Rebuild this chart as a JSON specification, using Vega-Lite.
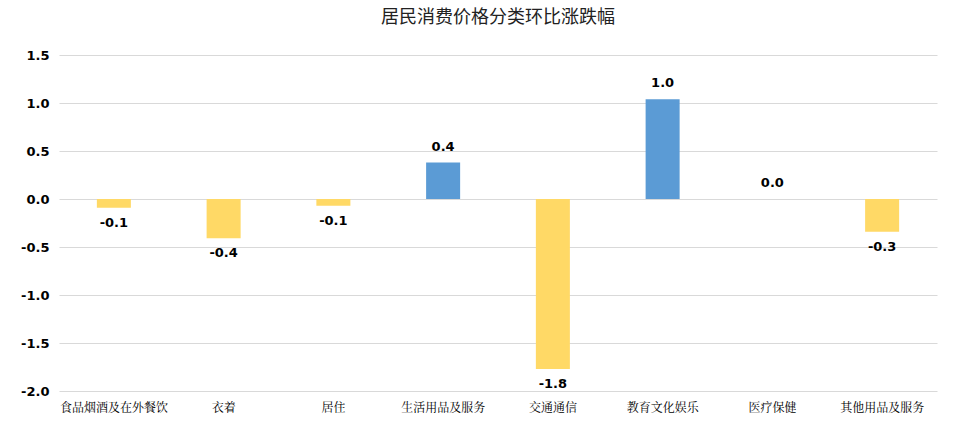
{
  "$schema": "https://vega.github.io/schema/vega-lite/v6.json",
  "width": 960,
  "height": 426,
  "autosize": {"type": "fit", "contains": "padding"},
  "padding": {"left": 20, "right": 23, "top": 9, "bottom": 13},
  "title": {
    "text": "居民消费价格分类环比涨跌幅",
    "font": "Noto Sans CJK SC",
    "fontSize": 18,
    "fontWeight": "normal",
    "color": "#222222",
    "offset": 22
  },
  "config": {
    "view": {"stroke": null},
    "locale": {
      "number": {
        "decimal": ".",
        "thousands": ",",
        "grouping": [3],
        "currency": ["", ""],
        "minus": "-"
      }
    }
  },
  "data": {
    "values": [
      {"category": "食品烟酒及在外餐饮", "change": -0.09},
      {"category": "衣着", "change": -0.41},
      {"category": "居住", "change": -0.07},
      {"category": "生活用品及服务", "change": 0.38},
      {"category": "交通通信", "change": -1.77},
      {"category": "教育文化娱乐", "change": 1.04},
      {"category": "医疗保健", "change": 0.0},
      {"category": "其他用品及服务", "change": -0.34}
    ]
  },
  "encoding": {
    "x": {
      "field": "category",
      "type": "nominal",
      "sort": null,
      "title": null,
      "scale": {"paddingInner": 0.69, "paddingOuter": 0.345},
      "axis": {
        "labelAngle": 0,
        "domain": false,
        "ticks": false,
        "labelPadding": 11,
        "labelFont": "Noto Serif CJK SC",
        "labelFontSize": 12,
        "labelColor": "#000000"
      }
    },
    "y": {
      "field": "change",
      "type": "quantitative",
      "title": null,
      "scale": {"domain": [-2, 1.5], "nice": false},
      "axis": {
        "values": [-2, -1.5, -1, -0.5, 0, 0.5, 1, 1.5],
        "format": ".1f",
        "domain": false,
        "ticks": false,
        "labelPadding": 10,
        "labelFont": "DejaVu Sans",
        "labelFontWeight": "bold",
        "labelFontSize": 13,
        "labelColor": "#000000",
        "gridColor": "#d9d9d9"
      }
    }
  },
  "layer": [
    {
      "mark": {"type": "bar"},
      "encoding": {
        "color": {
          "condition": {"test": "datum.change >= 0", "value": "#5b9bd5"},
          "value": "#ffd966"
        }
      }
    },
    {
      "transform": [{"filter": "datum.change >= 0"}],
      "mark": {
        "type": "text",
        "baseline": "bottom",
        "dy": -9,
        "font": "DejaVu Sans",
        "fontWeight": "bold",
        "fontSize": 13,
        "color": "#000000"
      },
      "encoding": {
        "text": {"field": "change", "type": "quantitative", "format": ".1f"}
      }
    },
    {
      "transform": [{"filter": "datum.change < 0"}],
      "mark": {
        "type": "text",
        "baseline": "top",
        "dy": 9,
        "font": "DejaVu Sans",
        "fontWeight": "bold",
        "fontSize": 13,
        "color": "#000000"
      },
      "encoding": {
        "text": {"field": "change", "type": "quantitative", "format": ".1f"}
      }
    }
  ]
}
